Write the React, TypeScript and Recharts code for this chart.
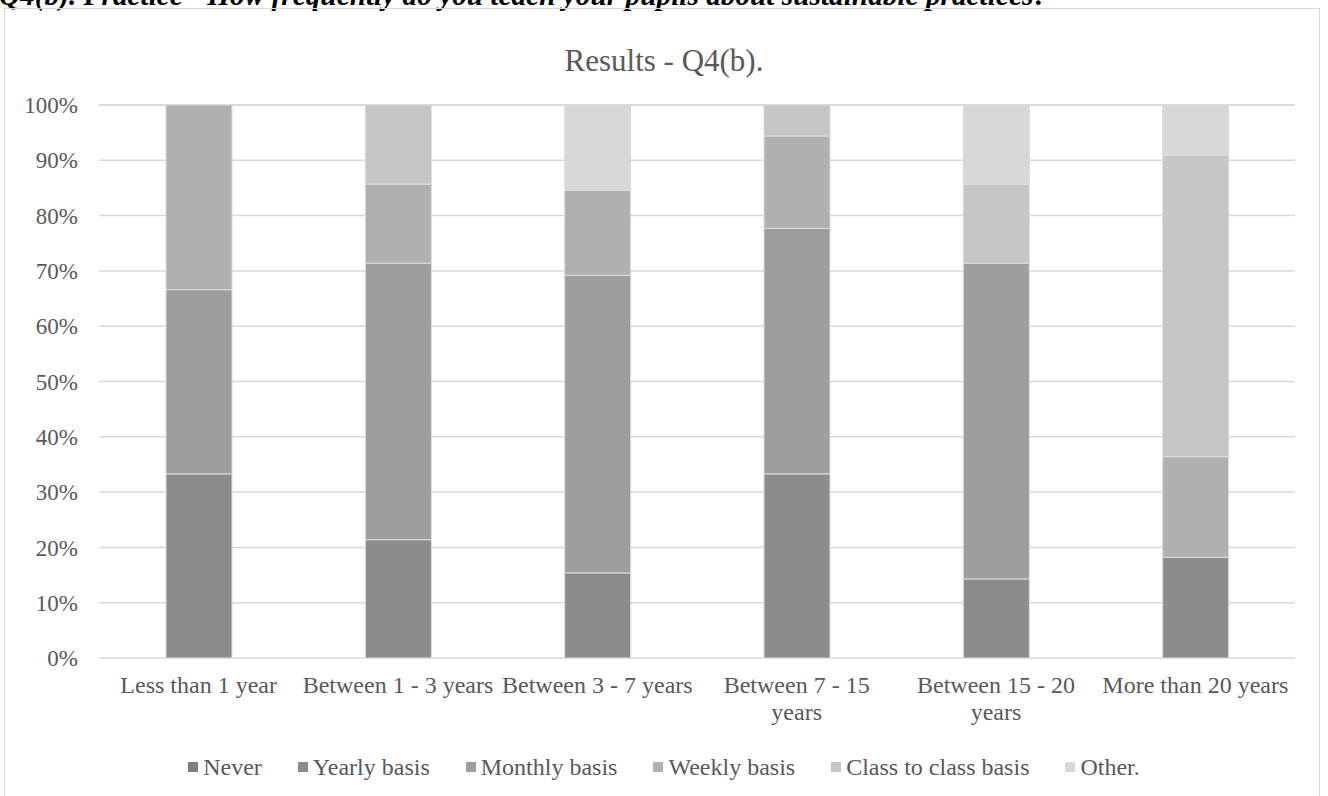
import { BarChart, Bar, XAxis, YAxis, CartesianGrid, Legend } from 'recharts';

// categories and stacked shares (%) per teaching-experience group
const categories = [
  'Less than 1 year',
  'Between 1 - 3 years',
  'Between 3 - 7 years',
  'Between 7 - 15 years',
  'Between 15 - 20 years',
  'More than 20 years',
];
const never = [0, 0, 0, 0, 0, 0];
const yearly = [33.3, 21.4, 15.4, 33.3, 14.3, 18.2];
const monthly = [33.3, 50.0, 53.8, 44.4, 57.1, 0];
const weekly = [33.4, 14.3, 15.4, 16.7, 0, 18.2];
const classToClass = [0, 14.3, 0, 5.6, 14.3, 54.5];
const other = [0, 0, 15.4, 0, 14.3, 9.1];
const yTicks = [0, 10, 20, 30, 40, 50, 60, 70, 80, 90, 100];

const FONT = '"Liberation Serif", "Times New Roman", serif';
const TEXT = '#595959';

const series = [
  { key: 'Never', values: never, color: '#7f7f7f' },
  { key: 'Yearly basis', values: yearly, color: '#8c8c8c' },
  { key: 'Monthly basis', values: monthly, color: '#9e9e9e' },
  { key: 'Weekly basis', values: weekly, color: '#b0b0b0' },
  { key: 'Class to class basis', values: classToClass, color: '#c6c6c6' },
  { key: 'Other.', values: other, color: '#d8d8d8' },
];
const order = series.map(s => s.key);

const data = categories.map((name, i) => {
  const row: Record<string, string | number> = { name };
  series.forEach(s => { row[s.key] = s.values[i]; });
  return row;
});

function XTick({ x, y, payload }: any) {
  const label: string = payload.value;
  let lines = [label];
  if (label.length > 19) {
    const cut = label.lastIndexOf(' ');
    lines = [label.slice(0, cut), label.slice(cut + 1)];
  }
  return (
    <text x={x} y={y + 35} textAnchor="middle" fill={TEXT} fontFamily={FONT} fontSize={24}>
      {lines.map((l, i) => (
        <tspan key={i} x={x} dy={i === 0 ? 0 : 27}>{l}</tspan>
      ))}
    </text>
  );
}

function LegendContent({ payload }: any) {
  const items = [...(payload || [])].sort((a: any, b: any) => order.indexOf(a.value) - order.indexOf(b.value));
  return (
    <div style={{ display: 'flex', justifyContent: 'center', height: 30, alignItems: 'center', fontFamily: FONT, fontSize: 24, color: TEXT }}>
      {items.map((p: any, i: number) => (
        <div key={p.value} style={{ display: 'flex', alignItems: 'center', marginLeft: i === 0 ? 0 : 36 }}>
          <span style={{ width: 10, height: 10, background: p.color, marginRight: 5, display: 'inline-block' }} />
          <span>{p.value}</span>
        </div>
      ))}
    </div>
  );
}

export default function App() {
  return (
    <div style={{ position: 'absolute', left: 0, top: 0, width: 1328, height: 796, overflow: 'hidden', background: '#fff' }}>
      <div style={{ position: 'absolute', left: -1, top: -19, whiteSpace: 'nowrap', fontFamily: FONT, fontSize: 29.3, lineHeight: '29px', fontWeight: 'bold', fontStyle: 'italic', color: '#000' }}>
        Q4(b). Practice - How frequently do you teach your pupils about sustainable practices?
      </div>
      <div style={{ position: 'absolute', left: 4, top: 8, width: 1316, height: 820, border: '1.5px solid #d9d9d9', boxSizing: 'border-box' }} />
      <div style={{ position: 'absolute', left: 0, top: 43, width: 1328, textAlign: 'center', fontFamily: FONT, fontSize: 31, color: TEXT }}>
        Results - Q4(b).
      </div>
      <div style={{ position: 'absolute', left: 0, top: 0 }}>
        <BarChart width={1328} height={796} data={data} margin={{ top: 105, right: 33, bottom: 48, left: 9 }} barSize={66}>
          <CartesianGrid vertical={false} stroke="#d9d9d9" strokeWidth={1.5} />
          <XAxis dataKey="name" axisLine={false} tickLine={false} tickSize={0} tickMargin={0} height={60} interval={0} tick={<XTick />} />
          <YAxis
            width={90}
            domain={[0, 100]}
            ticks={yTicks}
            axisLine={false}
            tickLine={false}
            tickSize={0}
            tickMargin={21}
            tickFormatter={(v: number) => `${v}%`}
            tick={{ fill: TEXT, fontFamily: FONT, fontSize: 23 }}
          />
          <Legend verticalAlign="bottom" content={<LegendContent />} wrapperStyle={{ top: 752, bottom: 'auto', left: 0, width: 1328 }} />
          {series.map(s => (
            <Bar key={s.key} dataKey={s.key} stackId="a" fill={s.color} stroke="#dcdcdc" strokeWidth={1} isAnimationActive={false} />
          ))}
        </BarChart>
      </div>
    </div>
  );
}
